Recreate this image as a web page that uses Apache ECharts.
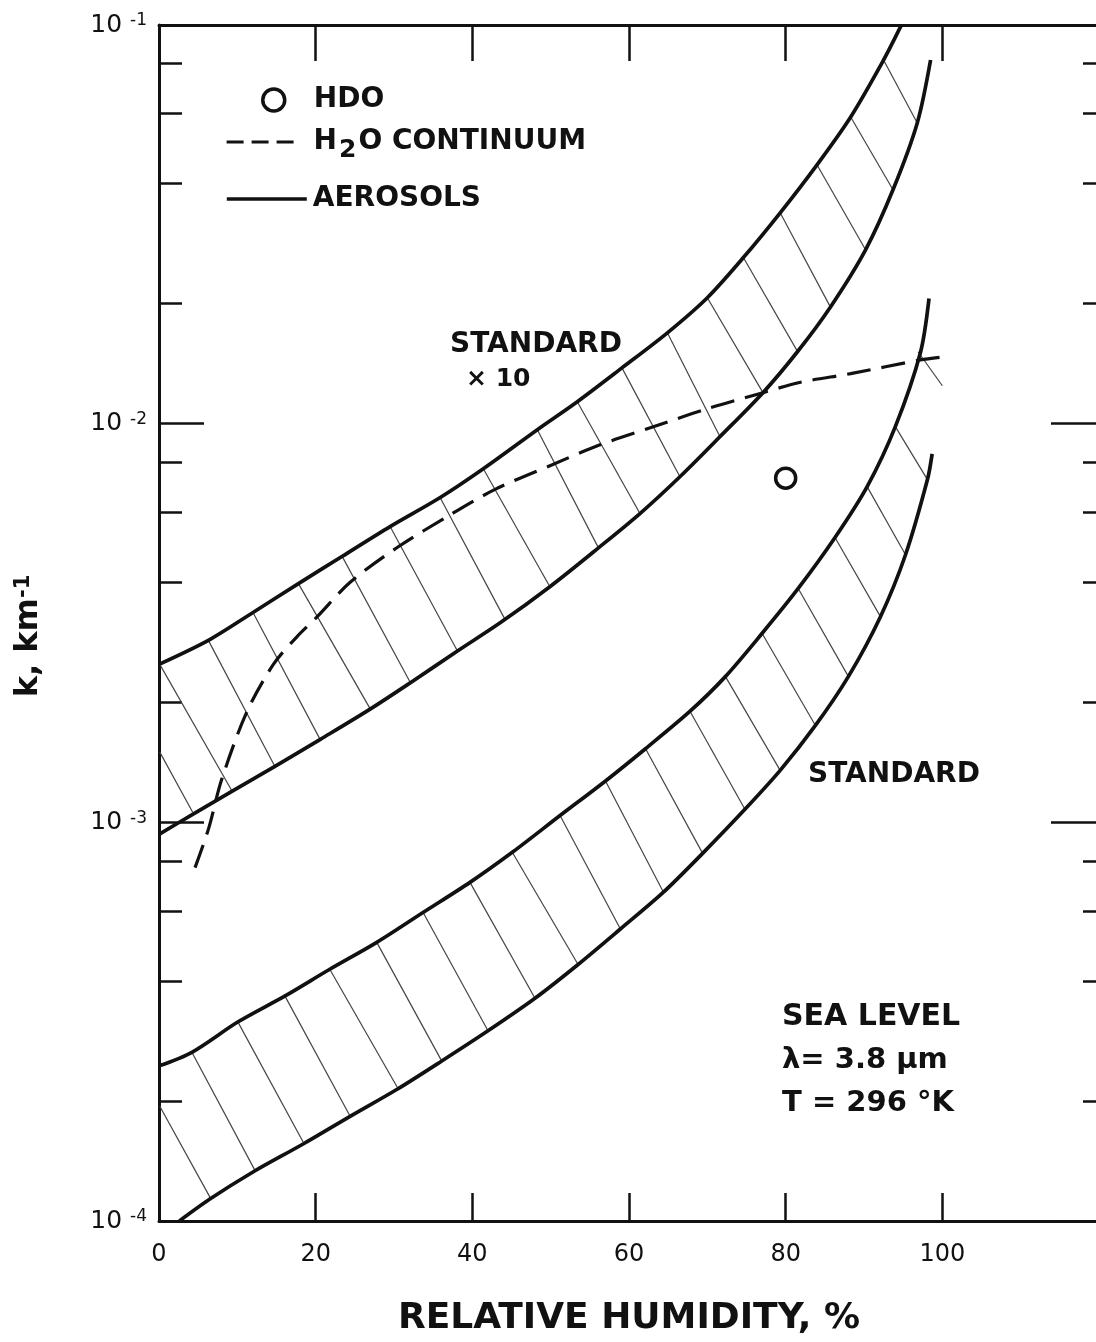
<!DOCTYPE html>
<html><head><meta charset="utf-8">
<script src="https://cdn.jsdelivr.net/npm/echarts@6/dist/echarts.min.js"></script>
<style>html,body{margin:0;padding:0;background:#fff}#c{width:1096px;height:1342px}</style>
</head><body><div id="c"></div>
<script>
// ---------- DATA ----------
// x: relative humidity (%), y: k (km^-1)
const xTicks = [0, 20, 40, 60, 80, 100, 120];
const yTickValues = [1e-4, 1e-3, 1e-2, 1e-1];
const yTickExps = ['-4', '-3', '-2', '-1'];
const yMinorTicks = [2e-4,4e-4,6e-4,8e-4, 2e-3,4e-3,6e-3,8e-3, 2e-2,4e-2,6e-2,8e-2];

// STANDARD x10 band (upper band)
const std10Upper = [[0,2.49e-3],[6.3,2.86e-3],[12.0,3.36e-3],[17.8,3.97e-3],[23.4,4.65e-3],[29.5,5.52e-3],[35.9,6.53e-3],[41.4,7.71e-3],[48.3,9.66e-3],[53.4,1.135e-2],[59.1,1.38e-2],[64.9,1.69e-2],[70.0,2.07e-2],[74.6,2.61e-2],[79.3,3.38e-2],[84.0,4.46e-2],[88.3,5.88e-2],[92.5,8.17e-2],[94.6,9.83e-2],[94.8,0.1]];
const std10Lower = [[0,9.33e-4],[4.3,1.047e-3],[9.3,1.196e-3],[14.8,1.381e-3],[20.6,1.615e-3],[26.9,1.92e-3],[32.1,2.24e-3],[38.1,2.69e-3],[43.6,3.17e-3],[49.9,3.90e-3],[56.1,4.88e-3],[61.4,5.95e-3],[66.5,7.36e-3],[71.6,9.27e-3],[77.1,1.196e-2],[81.5,1.515e-2],[85.7,1.96e-2],[90.2,2.73e-2],[93.7,3.86e-2],[96.8,5.68e-2],[98.5,8.17e-2]];
// STANDARD band (lower band)
const stdUpper = [[0,2.45e-4],[4.2,2.65e-4],[10.1,3.16e-4],[16.1,3.67e-4],[21.8,4.28e-4],[27.8,5.0e-4],[33.7,5.94e-4],[39.7,7.07e-4],[45.1,8.41e-4],[51.2,1.04e-3],[57.0,1.27e-3],[62.1,1.53e-3],[67.8,1.90e-3],[72.3,2.32e-3],[77.0,2.98e-3],[81.6,3.86e-3],[86.3,5.18e-3],[90.4,6.95e-3],[94.0,9.83e-3],[97.2,1.506e-2],[98.3,2.06e-2]];
const stdLower = [[2.6,1.0e-4],[6.5,1.135e-4],[12.0,1.327e-4],[18.4,1.56e-4],[24.4,1.83e-4],[30.4,2.14e-4],[36.1,2.52e-4],[42.0,3.0e-4],[48.0,3.62e-4],[53.5,4.4e-4],[58.9,5.4e-4],[64.4,6.68e-4],[69.4,8.36e-4],[74.8,1.078e-3],[79.3,1.35e-3],[83.8,1.75e-3],[88.0,2.32e-3],[92.1,3.28e-3],[95.3,4.69e-3],[98.1,7.24e-3],[98.7,8.4e-3]];
// H2O continuum (dashed)
const h2oContinuum = [[4.6,7.7e-4],[6.3,9.6e-4],[8.0,1.28e-3],[11.2,1.89e-3],[14.6,2.49e-3],[17.6,2.92e-3],[20.2,3.28e-3],[24.4,4.0e-3],[30.4,4.89e-3],[37.2,5.91e-3],[42.9,6.84e-3],[50.2,7.89e-3],[56.3,8.85e-3],[63.1,9.82e-3],[70.0,1.09e-2],[77.1,1.196e-2],[81.9,1.27e-2],[88.3,1.335e-2],[97.2,1.445e-2],[100,1.47e-2]];
// HDO point
const hdo = [[80, 7.3e-3]];
// hatch segments [x1, k1, x2, k2]
const hatch10 = [[0.1,1.50e-3,4.3,1.06e-3],[0.1,2.49e-3,9.3,1.20e-3],[6.3,2.86e-3,14.8,1.38e-3],[12.0,3.36e-3,20.6,1.61e-3],[17.8,3.97e-3,27.0,1.92e-3],[23.4,4.64e-3,32.1,2.24e-3],[29.5,5.52e-3,38.1,2.69e-3],[35.9,6.52e-3,44.2,3.22e-3],[41.4,7.71e-3,49.9,3.90e-3],[48.3,9.66e-3,56.1,4.88e-3],[53.4,1.135e-2,61.4,5.95e-3],[59.1,1.38e-2,66.5,7.36e-3],[64.9,1.69e-2,71.6,9.28e-3],[70.0,2.07e-2,77.1,1.196e-2],[74.6,2.61e-2,81.6,1.507e-2],[79.3,3.38e-2,85.7,1.963e-2],[84.0,4.46e-2,90.2,2.73e-2],[88.3,5.88e-2,93.7,3.86e-2],[92.5,8.17e-2,96.8,5.68e-2]];
const hatchStd = [[0.1,1.94e-4,6.5,1.148e-4],[4.2,2.65e-4,12.3,1.334e-4],[10.1,3.15e-4,18.4,1.578e-4],[16.1,3.66e-4,24.4,1.832e-4],[21.8,4.28e-4,30.4,2.168e-4],[27.8,5.00e-4,36.1,2.518e-4],[33.7,5.95e-4,42.0,3.0e-4],[39.7,7.07e-4,48.0,3.62e-4],[45.1,8.41e-4,53.5,4.4e-4],[51.2,1.04e-3,58.9,5.40e-4],[57.0,1.27e-3,64.4,6.68e-4],[62.1,1.532e-3,69.4,8.36e-4],[67.8,1.897e-3,74.8,1.078e-3],[72.3,2.323e-3,79.3,1.350e-3],[77.0,2.976e-3,83.8,1.750e-3],[81.6,3.858e-3,88.0,2.323e-3],[86.3,5.18e-3,92.1,3.28e-3],[90.4,6.95e-3,95.3,4.69e-3],[94.0,9.83e-3,98.1,7.24e-3],[96.9,1.515e-2,100.0,1.245e-2]];

// ---------- CHART ----------
const INK = '#111';
const FONT = 'DejaVu Sans';
const chart = echarts.init(document.getElementById('c'), null, {renderer: 'canvas'});

function yLabel(v) {
  const lv = Math.log10(v);
  const i = yTickValues.findIndex(t => Math.abs(Math.log10(t) - lv) < 1e-6);
  return i >= 0 ? '{b|10}{s|' + yTickExps[i] + '}' : '';
}

const aero = (data) => ({
  type: 'line', name: 'AEROSOLS', data, xAxisIndex: 0, yAxisIndex: 0,
  showSymbol: false, symbol: 'none', smooth: 0.3,
  lineStyle: {color: INK, width: 3.7}, itemStyle: {color: INK}, z: 5, silent: true
});
const hatchSeries = (arr) => ({
  type: 'lines', coordinateSystem: 'cartesian2d', xAxisIndex: 0, yAxisIndex: 0,
  data: arr.map(h => ({coords: [[h[0], h[1]], [h[2], h[3]]]})),
  lineStyle: {color: '#444', width: 1.2, opacity: 1}, silent: true, z: 3
});

const legendText = {color: INK, fontFamily: FONT, fontSize: 28, fontWeight: 'bold'};
const hiddenSymbol = {opacity: 0, color: 'rgba(0,0,0,0)', borderWidth: 0};

chart.setOption({
  animation: false,
  backgroundColor: '#fff',
  grid: {left: 159, top: 25, width: 940, height: 1196, containLabel: false, outerBoundsMode: 'none'},
  legend: [
    {left: 261, top: 86, padding: 0, orient: 'vertical', itemWidth: 22, itemHeight: 22, selectedMode: false,
     data: [{name: 'HDO', icon: 'circle', itemStyle: {color: '#fff', borderColor: INK, borderWidth: 3.5, opacity: 1}}],
     textStyle: Object.assign({padding: [0, 0, 0, 24]}, legendText)},
    {left: 225, top: 128, padding: 0, orient: 'vertical', itemWidth: 70, itemHeight: 22, selectedMode: false,
     data: ['H2O CONTINUUM'],
     formatter: () => '{n|H}{sub|2}{n|O CONTINUUM}',
     lineStyle: {type: [17, 8], width: 3.2, color: INK},
     itemStyle: hiddenSymbol,
     textStyle: Object.assign({padding: [0, 0, 0, 12], rich: {
       n: {fontFamily: FONT, fontSize: 28, fontWeight: 'bold', color: INK},
       sub: {fontFamily: FONT, fontSize: 25, fontWeight: 'bold', color: INK, padding: [16, 2, 0, 2]}
     }}, legendText)},
    {left: 225, top: 185, padding: 0, orient: 'vertical', itemWidth: 80, itemHeight: 22, selectedMode: false,
     data: ['AEROSOLS'],
     lineStyle: {width: 3.6, color: INK},
     itemStyle: hiddenSymbol,
     textStyle: Object.assign({padding: [0, 0, 0, 1]}, legendText)}
  ],
  xAxis: [
    {type: 'value', position: 'bottom', min: xTicks[0], max: xTicks[xTicks.length - 1], interval: 20,
     name: 'RELATIVE HUMIDITY, %', nameLocation: 'middle', nameGap: 80, nameMoveOverlap: false,
     nameTextStyle: {fontFamily: FONT, fontSize: 36, fontWeight: 'bold', color: INK},
     axisLine: {show: true, lineStyle: {color: INK, width: 3}},
     axisTick: {show: true, inside: true, length: 28, lineStyle: {color: INK, width: 2.5}},
     axisLabel: {show: true, margin: 22, showMaxLabel: false, fontFamily: FONT, fontSize: 24, color: INK},
     splitLine: {show: false}},
    {type: 'value', position: 'top', min: xTicks[0], max: xTicks[xTicks.length - 1], interval: 20,
     axisLine: {show: true, lineStyle: {color: INK, width: 3}},
     axisTick: {show: true, inside: true, length: 36, lineStyle: {color: INK, width: 2.5}},
     axisLabel: {show: false}, splitLine: {show: false}}
  ],
  yAxis: [
    {type: 'log', logBase: 10, position: 'left', min: yTickValues[0], max: yTickValues[yTickValues.length - 1],
     name: '{n|k, km}{s|-1}', nameLocation: 'middle', nameGap: 114, nameMoveOverlap: false,
     nameTextStyle: {padding: [0, 26, 0, 0], rich: {
       n: {fontFamily: FONT, fontSize: 32, fontWeight: 'bold', color: INK},
       s: {fontFamily: FONT, fontSize: 21, fontWeight: 'bold', color: INK, verticalAlign: 'top'}
     }},
     axisLine: {show: true, lineStyle: {color: INK, width: 3}},
     axisTick: {show: true, inside: true, length: 45, lineStyle: {color: INK, width: 2.5}},
     axisLabel: {show: true, margin: 12, formatter: yLabel, rich: {
       b: {fontFamily: FONT, fontSize: 25, color: INK},
       s: {fontFamily: FONT, fontSize: 17, color: INK, verticalAlign: 'top', padding: [0, 0, 4, 8]}
     }},
     minorTick: {show: false}, splitLine: {show: false}},
    {type: 'log', logBase: 10, position: 'left', min: yTickValues[0], max: yTickValues[yTickValues.length - 1],
     axisLine: {show: false},
     axisTick: {show: true, inside: true, length: 23, customValues: yMinorTicks, lineStyle: {color: INK, width: 2.5}},
     axisLabel: {show: false}, splitLine: {show: false}},
    {type: 'log', logBase: 10, position: 'right', min: yTickValues[0], max: yTickValues[yTickValues.length - 1],
     axisLine: {show: true, lineStyle: {color: INK, width: 3}},
     axisTick: {show: true, inside: true, length: 48, lineStyle: {color: INK, width: 2.5}},
     axisLabel: {show: false}, splitLine: {show: false}},
    {type: 'log', logBase: 10, position: 'right', min: yTickValues[0], max: yTickValues[yTickValues.length - 1],
     axisLine: {show: false},
     axisTick: {show: true, inside: true, length: 16, customValues: yMinorTicks, lineStyle: {color: INK, width: 2.5}},
     axisLabel: {show: false}, splitLine: {show: false}}
  ],
  series: [
    hatchSeries(hatch10),
    hatchSeries(hatchStd),
    aero(std10Upper), aero(std10Lower), aero(stdUpper), aero(stdLower),
    {type: 'line', name: 'H2O CONTINUUM', data: h2oContinuum, xAxisIndex: 0, yAxisIndex: 0,
     showSymbol: false, symbol: 'none', smooth: 0.3,
     lineStyle: {color: INK, width: 3.2, type: [24, 11]}, itemStyle: {color: INK}, z: 6, silent: true},
    {type: 'scatter', name: 'HDO', data: hdo, xAxisIndex: 0, yAxisIndex: 0,
     symbol: 'circle', symbolSize: 20,
     itemStyle: {color: '#fff', borderColor: INK, borderWidth: 3.5, opacity: 1}, z: 7, silent: true}
  ],
  graphic: [
    {type: 'text', left: 450, top: 331, style: {text: 'STANDARD', font: 'bold 28px "DejaVu Sans"', fill: INK}},
    {type: 'text', left: 466, top: 367, style: {text: '× 10', font: 'bold 25px "DejaVu Sans"', fill: INK}},
    {type: 'text', left: 808, top: 761, style: {text: 'STANDARD', font: 'bold 28px "DejaVu Sans"', fill: INK}},
    {type: 'text', left: 782, top: 1002, style: {text: 'SEA LEVEL', font: 'bold 30px "DejaVu Sans"', fill: INK}},
    {type: 'text', left: 782, top: 1046, style: {text: 'λ= 3.8 μm', font: 'bold 29px "DejaVu Sans"', fill: INK}},
    {type: 'text', left: 782, top: 1089, style: {text: 'T = 296 °K', font: 'bold 29px "DejaVu Sans"', fill: INK}}
  ]
});
</script></body></html>
